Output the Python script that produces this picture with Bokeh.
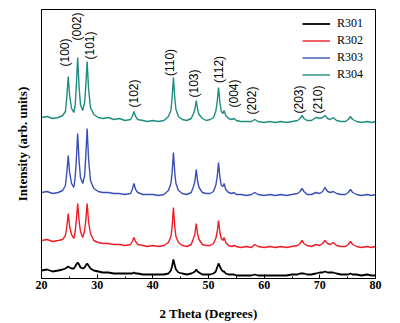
import math
from bokeh.plotting import figure
from bokeh.models import ColumnDataSource, Legend, LegendItem, FixedTicker, Range1d
from bokeh.core.properties import value
from bokeh.embed import file_html
from bokeh.resources import INLINE

# 2 Theta grid (degrees)
two_theta = [20, 21, 22, 23, 23.8, 24.3, 24.55, 24.8, 25.05, 25.4, 25.8, 26.05, 26.25, 26.5, 26.75,
             27.0, 27.4, 27.75, 27.95, 28.2, 28.45, 28.8, 29.4, 30.2, 31.0, 32.0, 33.0, 34.0, 35.0,
             36.0, 36.3, 36.6, 36.9, 37.3, 38.2, 39.0, 40.0, 41.0, 42.0, 42.8, 43.25, 43.45, 43.7,
             43.95, 44.15, 44.6, 45.3, 46.1, 46.9, 47.3, 47.55, 47.8, 48.05, 48.3, 48.9, 49.6, 50.3,
             50.9, 51.3, 51.55, 51.8, 52.05, 52.3, 52.6, 52.8, 53.1, 53.6, 54.2, 54.6, 55.0, 55.8,
             56.8, 57.7, 58.3, 58.9, 60.0, 61.0, 62.0, 63.0, 64.0, 65.0, 66.0, 66.45, 66.8, 67.15,
             67.7, 68.5, 69.3, 70.0, 70.5, 70.9, 71.4, 71.9, 72.4, 73.0, 73.8, 74.6, 75.1, 75.5,
             75.9, 76.6, 77.5, 78.5, 79.3, 80.0]

# Intensities (arb. units, stacked as in the figure)
r304 = [161, 162, 160, 161, 163, 167, 182, 202, 183, 170, 166, 173, 192, 221, 192,
        174, 168, 176, 192, 217, 190, 171, 164, 161, 160, 161, 159, 160, 158,
        159, 162, 167, 162, 159, 158, 157, 158, 157, 158, 162, 168, 180, 201,
        180, 169, 162, 159, 158, 160, 165, 169, 178, 169, 164, 160, 158, 159,
        161, 167, 176, 191, 176, 167, 165, 168, 163, 160, 159, 160, 158, 157,
        157, 157, 159, 157, 156, 157, 156, 157, 156, 157, 158, 160, 163, 160,
        158, 158, 161, 160, 161, 163, 160, 159, 161, 158, 157, 157, 159, 162,
        159, 157, 156, 157, 156, 157]
r303 = [86, 87, 85, 86, 88, 93, 106, 123, 106, 95, 91, 101, 118, 145, 118,
        101, 95, 103, 122, 150, 120, 98, 90, 87, 86, 86, 85, 85, 84,
        85, 89, 95, 89, 86, 84, 84, 84, 83, 84, 88, 95, 105, 126,
        105, 95, 88, 85, 84, 86, 92, 97, 109, 97, 91, 86, 85, 85,
        87, 93, 101, 116, 101, 93, 92, 95, 89, 86, 85, 86, 84, 84,
        83, 84, 86, 84, 83, 84, 83, 84, 83, 84, 85, 87, 90, 87,
        84, 84, 86, 85, 87, 91, 87, 86, 87, 85, 84, 84, 86, 89,
        86, 84, 83, 84, 83, 84]
r302 = [38, 39, 37, 38, 39, 43, 52, 65, 52, 44, 40, 47, 58, 75, 58,
        47, 41, 48, 58, 75, 57, 45, 38, 36, 35, 35, 34, 34, 33,
        34, 37, 41, 37, 34, 33, 32, 33, 32, 33, 36, 42, 51, 71,
        51, 42, 36, 33, 32, 34, 40, 44, 55, 44, 39, 34, 33, 33,
        35, 40, 46, 58, 46, 40, 38, 41, 36, 33, 32, 33, 32, 31,
        32, 31, 34, 32, 31, 32, 31, 32, 31, 32, 33, 35, 38, 35,
        33, 32, 34, 33, 35, 38, 35, 34, 36, 33, 32, 32, 34, 37,
        34, 32, 31, 32, 31, 32]
r301 = [8, 9, 7, 8, 9, 10, 11, 12, 11, 10, 10, 12, 14, 16, 14,
        11, 10, 11, 13, 15, 13, 10, 8, 7, 6, 6, 5, 5, 5,
        5, 5, 6, 5, 5, 4, 4, 4, 4, 4, 5, 8, 12, 19,
        13, 9, 6, 5, 4, 5, 6, 7, 9, 7, 6, 4, 4, 4,
        5, 7, 11, 15, 12, 9, 7, 7, 5, 4, 4, 4, 3, 3,
        3, 3, 4, 3, 3, 3, 3, 3, 3, 4, 4, 5, 5, 5,
        4, 4, 5, 6, 6, 7, 6, 6, 6, 5, 4, 4, 4, 5,
        4, 4, 3, 4, 3, 3]

series_names = ["R301", "R302", "R303", "R304"]
series_colors = ["#000000", "#ee1c25", "#3a4fb5", "#1f8c80"]

# Miller index labels
hkl_text = ["(100)", "(002)", "(101)", "(102)", "(110)", "(103)", "(112)", "(004)", "(202)", "(203)", "(210)"]
hkl_x = [24.19, 26.29, 28.80, 36.53, 43.17, 47.48, 51.97, 54.67, 57.90, 66.34, 69.76]
hkl_y = [226, 252, 233, 185, 216, 195, 209, 185, 178, 179, 179]

x_ticks = [20, 30, 40, 50, 60, 70, 80]

p = figure(width=400, height=323, output_backend="svg", toolbar_location=None,
           x_range=Range1d(20, 80), y_range=Range1d(0, 269),
           min_border_left=41, min_border_right=25, min_border_top=9, min_border_bottom=45)
p.background_fill_color = "white"
p.border_fill_color = "white"
p.grid.visible = False
p.outline_line_color = "black"
p.outline_line_width = 1

renderers = []
for name, col, ys in zip(series_names, series_colors, [r301, r302, r303, r304]):
    src = ColumnDataSource(dict(x=two_theta, y=ys))
    lw = 1.8 if name == "R301" else 1.4
    r = p.line("x", "y", source=src, line_color=col, line_width=lw)
    renderers.append((name, r))

lab_src = ColumnDataSource(dict(x=hkl_x, y=hkl_y, t=hkl_text))
p.text("x", "y", text="t", source=lab_src, angle=math.pi / 2,
       text_font=value("Liberation Sans"), text_font_size="12px",
       text_align="center", text_baseline="middle", text_color="black")

# x axis
xa = p.xaxis[0]
xa.ticker = FixedTicker(ticks=x_ticks, minor_ticks=[25, 35, 45, 55, 65, 75])
xa.major_tick_in = 4
xa.major_tick_out = 0
xa.minor_tick_in = 2
xa.minor_tick_out = 0
xa.major_label_standoff = 2
xa.major_label_text_font = "Liberation Serif"
xa.major_label_text_font_style = "bold"
xa.major_label_text_font_size = "12px"
xa.major_label_text_color = "black"
xa.axis_label = "2 Theta (Degrees)"
xa.axis_label_text_font = "Liberation Serif"
xa.axis_label_text_font_style = "bold"
xa.axis_label_text_font_size = "13px"
xa.axis_label_text_color = "black"
xa.axis_label_standoff = 14
xa.axis_line_color = "black"

# y axis
ya = p.yaxis[0]
ya.ticker = FixedTicker(ticks=[])
ya.major_tick_in = 0
ya.major_tick_out = 0
ya.minor_tick_in = 0
ya.minor_tick_out = 0
ya.major_label_text_font_size = "0px"
ya.axis_label = "Intensity (arb. units)"
ya.axis_label_text_font = "Liberation Serif"
ya.axis_label_text_font_style = "bold"
ya.axis_label_text_font_size = "13px"
ya.axis_label_text_color = "black"
ya.axis_label_standoff = 12
ya.axis_line_color = "black"

legend = Legend(items=[LegendItem(label=n, renderers=[r]) for n, r in renderers],
                location=(261, 196))
legend.label_text_font = "Liberation Serif"
legend.label_text_font_size = "12px"
legend.label_text_color = "black"
legend.glyph_width = 28
legend.glyph_height = 15
legend.label_height = 15
legend.spacing = 2
legend.padding = 0
legend.margin = 0
legend.label_standoff = 7
legend.border_line_alpha = 0
legend.background_fill_alpha = 0
p.add_layout(legend)

open("out.html", "w").write(file_html(p, INLINE))
